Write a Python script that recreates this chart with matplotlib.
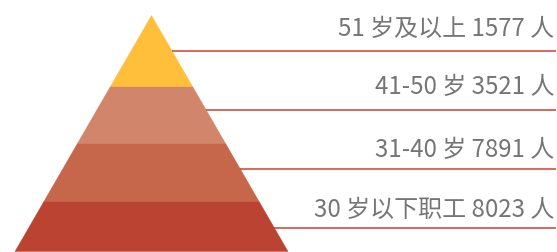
import matplotlib
matplotlib.use("Agg")
import matplotlib.pyplot as plt
from matplotlib.patches import Polygon

plt.rcParams['font.family'] = ['Noto Sans CJK SC', 'DejaVu Sans']

labels = ["51 岁及以上 1577 人", "41-50 岁 3521 人", "31-40 岁 7891 人", "30 岁以下职工 8023 人"]
colors = ["#FFBF3A", "#D1866B", "#C6674B", "#BA4331"]

# layout (pixels)
W, H = 557, 253
apex = (151.5, 16.5)
base_y, base_l, base_r = 252.5, 15.0, 288.0
bounds = [16.5, 88, 145, 203, 252.5]
line_y = [51.5, 110.5, 169.5, 228.5]
text_y = [36, 94, 157, 217]

fig = plt.figure(figsize=(W / 100, H / 100), dpi=100)
ax = fig.add_axes([0, 0, 1, 1])
ax.set_xlim(0, W)
ax.set_ylim(H, 0)
ax.axis('off')

def edges(y):
    t = (y - apex[1]) / (base_y - apex[1])
    return apex[0] + t * (base_l - apex[0]), apex[0] + t * (base_r - apex[0])

for i in range(4):
    y0, y1 = bounds[i], bounds[i + 1]
    l0, r0 = edges(y0)
    l1, r1 = edges(y1)
    ax.add_patch(Polygon([(l0, y0), (r0, y0), (r1, y1), (l1, y1)], closed=True,
                         facecolor=colors[i], edgecolor=colors[i], linewidth=0.3))

for i in range(4):
    _, r = edges(line_y[i])
    ax.plot([r, 556], [line_y[i], line_y[i]], color="#D0402E", linewidth=1.1, solid_capstyle='butt')
    ax.text(554.5, text_y[i], labels[i], ha='right', va='baseline', fontsize=17.3, color="#757575")

fig.savefig("out.png", dpi=100)
